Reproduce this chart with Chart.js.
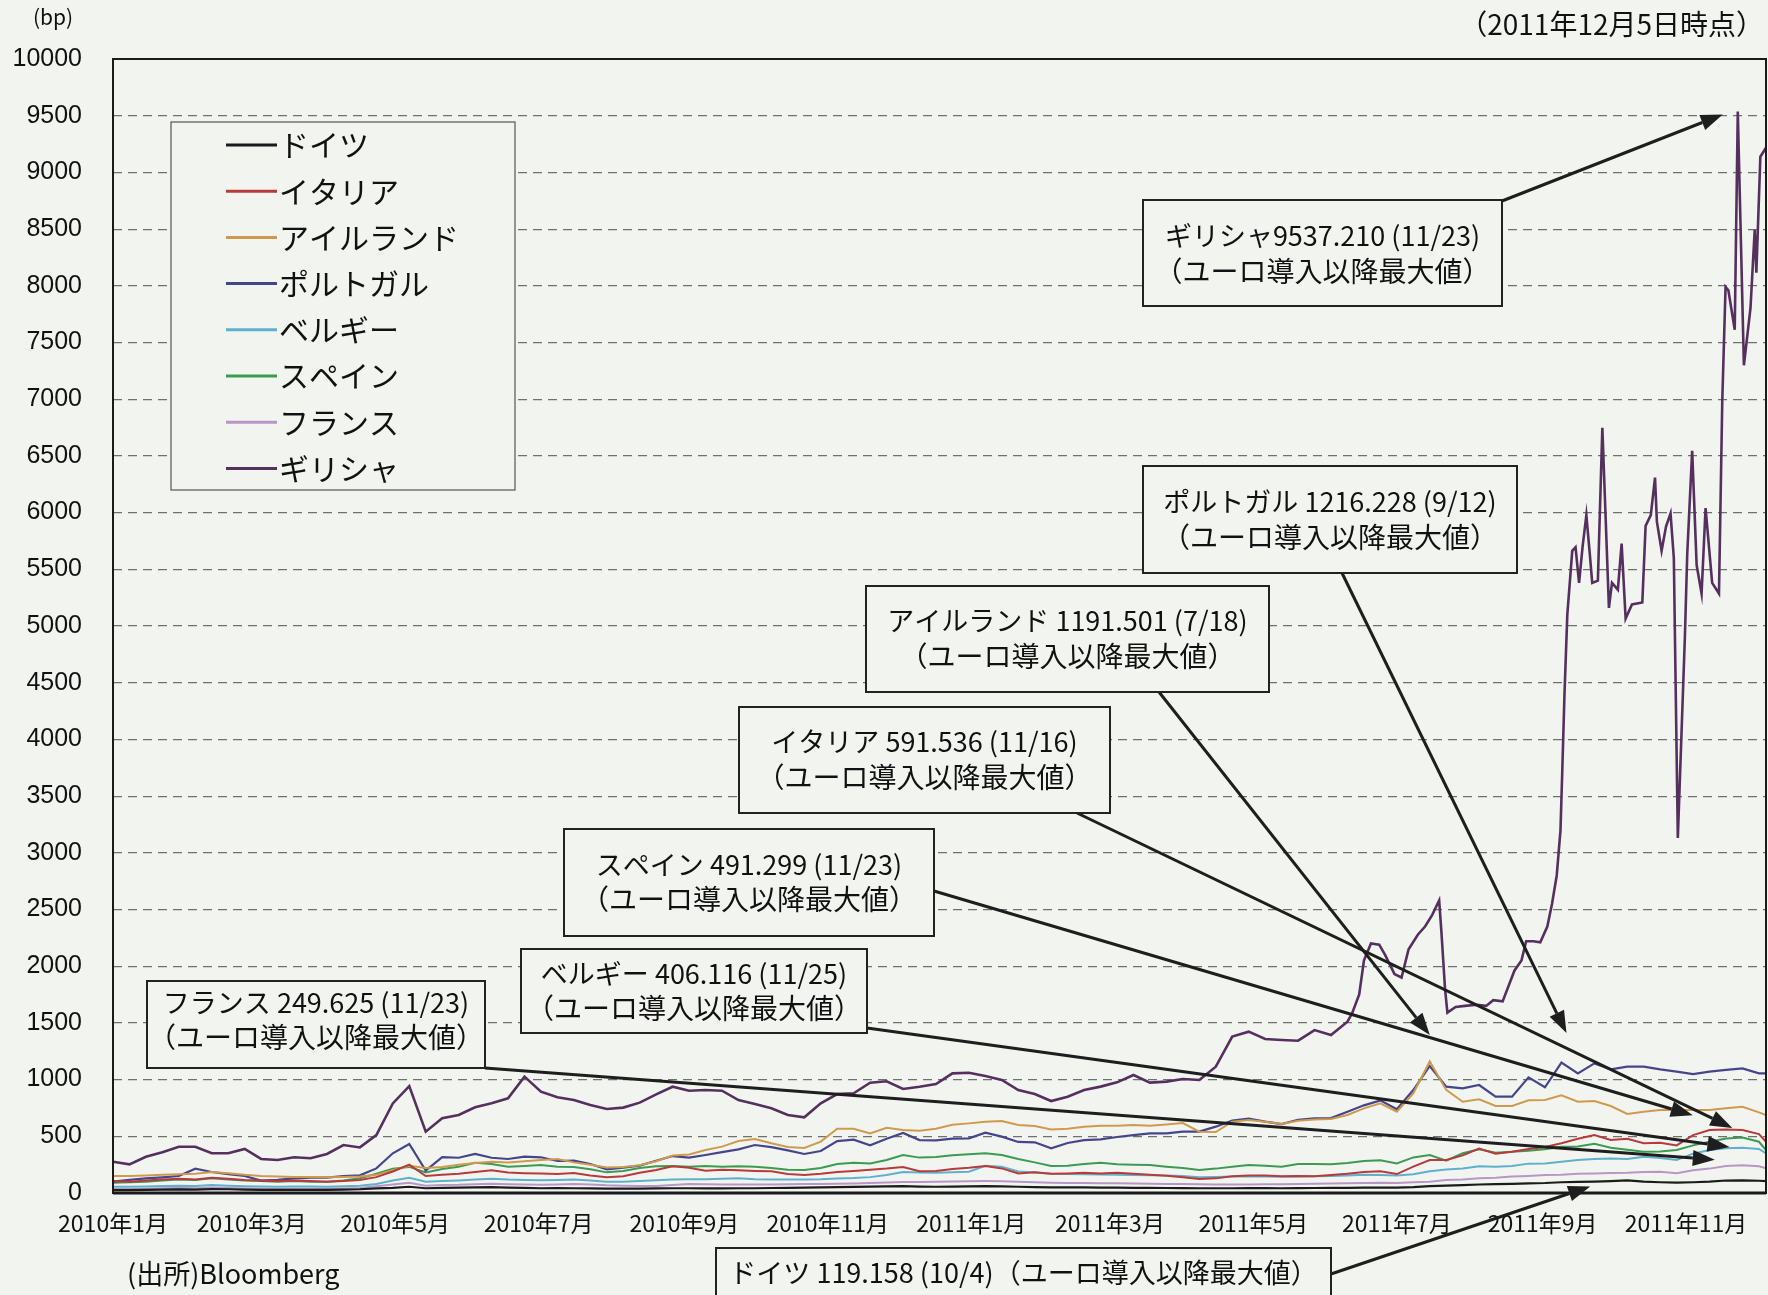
<!DOCTYPE html>
<html><head><meta charset="utf-8">
<script src="https://cdn.jsdelivr.net/npm/chart.js@4.4.0/dist/chart.umd.min.js"></script>
<style>html,body{margin:0;padding:0;background:#f2f5ef;}#wrap{width:1768px;height:1295px;}</style>
</head><body><div id="wrap"><canvas id="c" width="1768" height="1295"></canvas></div>
<script>
// ---------- DATA ----------
const seriesNames = ['ドイツ','イタリア','アイルランド','ポルトガル','ベルギー','スペイン','フランス','ギリシャ'];
const startDate = '2010-01-01';
const endDate = '2011-12-05';
const xTickDates = ['2010-01-01','2010-03-01','2010-05-01','2010-07-01','2010-09-01','2010-11-01','2011-01-01','2011-03-01','2011-05-01','2011-07-01','2011-09-01','2011-11-01'];
const xTickLabels = ['2010年1月','2010年3月','2010年5月','2010年7月','2010年9月','2010年11月','2011年1月','2011年3月','2011年5月','2011年7月','2011年9月','2011年11月'];
const yMax = 10000, yStep = 500;

// weekly observations (every 7 days from 2010-01-01) plus the final day 2011-12-05
const germany = [25,25,27,30,32,30,35,33,30,28,27,28,28,27,30,33,40,45,55,42,45,48,50,52,48,45,42,43,
 42,40,38,38,38,40,42,42,40,40,42,42,44,46,48,50,52,54,56,58,60,56,55,56,58,60,58,55,
 52,50,50,50,48,47,46,45,44,43,42,42,42,43,43,42,43,44,45,45,47,48,48,52,60,
 65,70,75,78,80,85,88,95,98,100,105,112,100,95,92,95,100,110,112,108,105];
const italy = [105,100,110,120,125,120,135,125,115,110,105,110,105,100,105,115,140,190,250,150,160,170,185,200,180,175,172,168,
 176,155,138,147,179,203,235,223,197,206,200,194,191,168,159,170,185,194,206,215,230,191,194,212,223,238,217,173,
 182,170,173,179,173,179,170,161,153,138,123,129,147,155,155,147,150,147,158,170,185,191,167,232,291,
 291,332,391,347,364,388,405,438,479,511,467,479,438,444,420,511,555,560,555,520,452];
const ireland = [150,150,155,160,165,170,185,175,160,150,145,140,140,138,140,145,160,200,240,220,230,250,265,275,270,280,290,300,
 270,250,225,230,245,280,330,340,379,409,458,476,438,405,397,453,567,567,526,576,556,550,567,602,614,629,635,600,
 591,561,567,585,594,594,600,594,605,617,541,538,629,644,629,608,638,649,652,688,746,790,717,879,1160,
 909,805,826,767,767,817,820,861,805,811,767,697,717,732,732,732,732,747,761,711,688];
const portugal = [100,115,129,138,150,214,185,167,150,109,115,129,135,135,150,156,217,350,432,197,317,311,344,311,300,320,315,282,
 285,256,209,223,241,285,326,312,335,361,385,423,405,376,344,370,458,470,420,479,530,467,464,479,482,532,497,450,
 447,394,441,467,473,494,511,526,526,541,541,585,638,655,629,608,646,658,661,717,773,817,738,908,1120,
 938,923,952,850,850,1020,932,1150,1055,1143,1090,1114,1114,1090,1070,1049,1070,1085,1099,1055,1055];
const belgium = [55,55,58,62,65,62,70,65,60,58,56,58,58,56,60,65,80,110,135,100,105,110,118,125,118,115,112,115,
 118,110,100,100,105,112,120,121,121,125,130,122,118,118,120,122,128,132,140,158,185,180,178,182,188,240,232,190,
 180,170,167,165,163,161,158,157,155,150,138,140,145,148,145,143,145,147,150,155,160,158,155,165,191,
 208,217,235,232,238,259,261,276,291,300,305,300,320,309,291,347,379,395,400,388,350];
const spain = [90,95,100,110,120,115,130,120,110,105,100,105,100,100,110,130,170,215,230,182,211,232,267,256,232,238,247,232,
 229,209,182,194,220,235,238,232,238,232,235,232,220,206,203,220,256,267,261,291,335,312,317,332,341,350,335,300,
 270,238,241,256,267,253,250,247,232,220,203,215,232,247,241,232,256,256,253,264,282,288,261,314,335,
 285,350,385,355,364,373,385,408,411,435,400,382,364,367,379,420,452,480,490,452,379];
const france = [35,35,38,42,45,42,48,44,40,38,36,38,38,37,40,45,60,75,90,65,70,72,78,82,78,75,72,76,
 80,75,68,65,62,62,70,80,78,76,75,74,76,78,80,80,82,84,88,92,96,98,100,102,104,105,104,100,
 95,90,88,88,85,85,84,82,80,80,78,76,75,76,78,78,80,82,84,85,88,90,88,95,100,
 114,120,130,135,145,150,158,162,170,173,177,179,185,188,175,200,215,238,245,235,217];
// Greece: weekly until day 525, then denser observations (day offset from 2010-01-01)
const greeceWeekly = [276,253,320,359,408,408,350,350,388,300,291,315,306,344,423,402,511,790,943,541,659,688,756,791,835,1026,894,844,
 820,776,741,753,797,870,937,902,908,902,820,785,747,688,667,791,873,879,973,985,917,937,961,1055,1061,1032,997,908,
 873,811,849,908,938,976,1041,973,982,1005,997,1114,1379,1423,1358,1349,1343,1437,1393,1511];
const greeceLateDays = [527,530,532,535,538.5,541,545,548,551,555,558,561,564,565,566.5,567.5,571,575,580,584,
 587,591,596,599,601,604,607,610,612,614,615.6,616.4,617.3,618.5,620.6,622,623.5,625,626.6,628,
 629.1,631.5,633.4,636.2,637.5,640,641.6,643.3,646,650.4,651.8,654,655.8,656.6,658.6,660.5,662.4,663.8,665.5,668.5,
 669.5,671.6,673.5,675.6,677.3,680.1,683,684.4,685.8,687,689.7,691,693.6,696.4,698.2,698.9,700.6,703];
const greeceLateValues = [1585,1750,2050,2200,2190,2100,1930,1900,2150,2280,2350,2450,2580,2290,1800,1590,1640,1650,1660,1650,
 1700,1690,1960,2050,2220,2220,2210,2350,2550,2800,3200,3750,4400,5100,5663,5695,5380,5700,5978,5650,
 5380,5400,6748,5160,5380,5320,5726,5066,5190,5207,5883,5978,6308,5920,5663,5880,5994,5600,3130,4900,
 5632,6544,5538,5286,6040,5380,5286,6984,7990,7960,7613,9537,7299,7802,8494,8116,9138,9217];

// record highs since the euro (annotations)
const annoNames = ['ギリシャ','ポルトガル','アイルランド','イタリア','スペイン','ベルギー','フランス','ドイツ'];
const annoValues = [9537.210, 1216.228, 1191.501, 591.536, 491.299, 406.116, 249.625, 119.158];
const annoDates = ['2011-11-23','2011-09-12','2011-07-18','2011-11-16','2011-11-23','2011-11-25','2011-11-23','2011-10-04'];
const annoSuffix = '（ユーロ導入以降最大値）';

// ---------- STYLE / LAYOUT ----------
const BG = '#f2f5ef';
const colors = ['#1b1b1b','#b83a3a','#cf9a4e','#45458c','#5fb0cc','#3b9b52','#b896c6','#55305f'];
const widths = [2.2,2,2,2.2,2,2,2,2.6];
const JP = "'Noto Sans CJK JP','Noto Sans',sans-serif";
const LAT = "'Liberation Sans',Arial,sans-serif";
const annoLayout = [
  {box:[1143,200,359,106], lines:[36,71], from:[1502,201], off:[-15,3]},
  {box:[1143,466,374,107], lines:[36,71], from:[1342,573], off:[-2,-22]},
  {box:[866,586,403,106], lines:[35,70], from:[1159,692], off:[-7,-23]},
  {box:[739,707,371,106], lines:[35,70], from:[1077,813], off:[11,2]},
  {box:[564,829,370,107], lines:[36,70], from:[934,891], off:[-45,-22]},
  {box:[521,949,346,84], lines:[25,59], from:[867,1028], off:[-13,0]},
  {box:[147,981,338,87], lines:[22,56], from:[485,1068], off:[-23,-5]},
  {box:[716,1248,615,60], lines:[25], from:[1331,1274], off:[-30,7]}
];

// ---------- helpers ----------
const DAY = 86400000;
const dayOf = s => Math.round((Date.parse(s) - Date.parse(startDate)) / DAY);
const lastDay = dayOf(endDate);
const weekDays = germany.map((_, i) => i < germany.length - 1 ? i * 7 : lastDay);
const tickDays = xTickDates.map(dayOf);
const toPts = vals => vals.map((v, i) => ({x: weekDays[i], y: v}));
const greecePts = greeceWeekly.map((v, i) => ({x: i * 7, y: v}))
  .concat(greeceLateDays.map((d, i) => ({x: d, y: greeceLateValues[i]})));
const allSeries = [toPts(germany), toPts(italy), toPts(ireland), toPts(portugal), toPts(belgium), toPts(spain), toPts(france), greecePts];

const bgPlugin = {
  id: 'bg',
  beforeDraw(chart) {
    const c = chart.ctx; c.save(); c.fillStyle = BG; c.fillRect(0, 0, chart.width, chart.height); c.restore();
  }
};

function arrow(c, x1, y1, x2, y2) {
  const a = Math.atan2(y2 - y1, x2 - x1), L = 22, W = 8;
  const bx = x2 - L * Math.cos(a), by = y2 - L * Math.sin(a);
  c.beginPath(); c.moveTo(x1, y1); c.lineTo(bx, by); c.stroke();
  c.beginPath(); c.moveTo(x2, y2);
  c.lineTo(bx + W * Math.sin(a), by - W * Math.cos(a));
  c.lineTo(bx - W * Math.sin(a), by + W * Math.cos(a));
  c.closePath(); c.fill();
}

const overlayPlugin = {
  id: 'overlay',
  afterDraw(chart) {
    const c = chart.ctx, ca = chart.chartArea, xs = chart.scales.x, ys = chart.scales.y;
    c.save();
    // plot frame
    c.strokeStyle = '#1a1a1a'; c.lineWidth = 2;
    c.strokeRect(ca.left, ca.top, ca.right - ca.left, ca.bottom - ca.top);
    c.lineWidth = 3; c.beginPath(); c.moveTo(ca.left, ca.bottom); c.lineTo(ca.right, ca.bottom); c.stroke();

    // legend
    c.fillStyle = BG; c.fillRect(171, 122, 344, 368);
    c.strokeStyle = '#555'; c.lineWidth = 1.2; c.strokeRect(171, 122, 344, 368);
    c.font = '30px ' + JP; c.textBaseline = 'middle'; c.textAlign = 'left';
    chart.data.datasets.forEach((ds, i) => {
      const yy = 145 + i * 46.2;
      c.strokeStyle = ds.borderColor; c.lineWidth = 3;
      c.beginPath(); c.moveTo(226, yy); c.lineTo(277, yy); c.stroke();
      c.fillStyle = '#111'; c.fillText(ds.label, 279, yy);
    });

    // annotations
    annoNames.forEach((nm, i) => {
      const L = annoLayout[i];
      const d = new Date(Date.parse(annoDates[i]));
      const md = '(' + (d.getUTCMonth() + 1) + '/' + d.getUTCDate() + ')';
      const val = annoValues[i].toFixed(3);
      const tx = xs.getPixelForValue(dayOf(annoDates[i])) + L.off[0];
      const ty = ys.getPixelForValue(annoValues[i]) + L.off[1];
      c.strokeStyle = '#1e1e1e'; c.fillStyle = '#1e1e1e'; c.lineWidth = 3;
      arrow(c, L.from[0], L.from[1], tx, ty);
      const [bx, by, bw, bh] = L.box;
      c.fillStyle = BG; c.fillRect(bx, by, bw, bh);
      c.strokeStyle = '#222'; c.lineWidth = 2; c.strokeRect(bx, by, bw, bh);
      c.fillStyle = '#111'; c.textAlign = 'center'; c.textBaseline = 'middle';
      const sep = nm === 'ギリシャ' ? '' : ' ';
      const line1 = nm + sep + val + ' ' + md;
      if (L.lines.length === 1) {
        c.font = '27px ' + JP;
        c.fillText(line1 + annoSuffix, bx + bw / 2, by + L.lines[0]);
      } else {
        c.font = '27px ' + JP;
        c.fillText(line1, bx + bw / 2, by + L.lines[0]);
        c.font = '28px ' + JP;
        c.fillText(annoSuffix, bx + bw / 2, by + L.lines[1]);
      }
    });

    // texts
    c.fillStyle = '#111'; c.textBaseline = 'middle';
    c.font = '21px ' + JP; c.textAlign = 'left'; c.fillText('(bp)', 33, 17);
    c.font = '28px ' + JP; c.textAlign = 'right'; c.fillText('（2011年12月5日時点）', 1764, 24);
    c.font = '27px ' + JP; c.textAlign = 'left'; c.fillText('(出所)Bloomberg', 127, 1274);
    c.restore();
  }
};

new Chart(document.getElementById('c'), {
  type: 'line',
  data: {
    datasets: allSeries.map((pts, i) => ({
      label: seriesNames[i], data: pts, borderColor: colors[i], backgroundColor: colors[i],
      borderWidth: widths[i], pointRadius: 0, tension: 0, fill: false
    }))
  },
  options: {
    responsive: false, animation: false, devicePixelRatio: 1,
    layout: {padding: {top: 59, right: 2, bottom: 0, left: 0}},
    plugins: {legend: {display: false}, tooltip: {enabled: false}, title: {display: false}},
    scales: {
      x: {
        type: 'linear', min: 0, max: lastDay,
        afterBuildTicks(s) { s.ticks = tickDays.map(v => ({value: v})); },
        afterFit(s) { s.height = 102; },
        ticks: {autoSkip: false, maxRotation: 0, minRotation: 0, padding: 16, color: '#111',
          font: {family: JP, size: 23}, callback: (v, i) => xTickLabels[i]},
        grid: {display: false, drawTicks: false},
        border: {display: false}
      },
      y: {
        min: 0, max: yMax,
        afterFit(s) { s.width = 113; },
        ticks: {stepSize: yStep, padding: 31, color: '#111', font: {family: LAT, size: 25},
          callback: v => String(v)},
        grid: {color: '#707070', lineWidth: 1.2, drawTicks: false},
        border: {display: false, dash: [9, 6]}
      }
    }
  },
  plugins: [bgPlugin, overlayPlugin]
});
</script></body></html>
